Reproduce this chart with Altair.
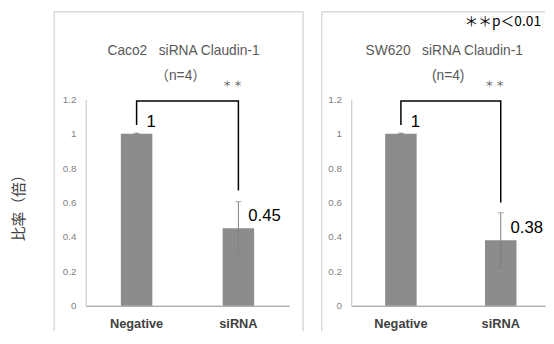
import altair as alt
import pandas as pd

# ---- data ----
categories = ["Negative", "siRNA"]
caco2_means = [1.0, 0.45]
caco2_errs = [0.003, 0.155]
sw620_means = [1.0, 0.38]
sw620_errs = [0.003, 0.16]
caco2_labels = ["1", "0.45"]
sw620_labels = ["1", "0.38"]
y_ticks = [0, 0.2, 0.4, 0.6, 0.8, 1.0, 1.2]
bracket_start = 1.05
bracket_top = 1.19
caco2_bracket_end = 0.67
sw620_bracket_end = 0.60
star_level = 1.29
caco2_title = ["Caco2\u00a0\u00a0\u00a0siRNA Claudin-1", "（n=4）"]
sw620_title = ["SW620\u00a0\u00a0\u00a0siRNA Claudin-1", "(n=4)"]
pvalue_note = "＊＊p＜0.01"
star_text = "＊\u00a0＊"
y_title = "比率（倍）"

FONT = "Liberation Sans, Noto Sans CJK JP"
CJK = "Noto Sans CJK JP"
H = 210
BORDER = "#d9d9d9"


def one(text):
    return pd.DataFrame({"t": [text]})


def panel(means, errs, labels, bracket_end, width, xscale, titles, left):
    df = pd.DataFrame({
        "cat": categories,
        "mean": means,
        "lo": [m - e for m, e in zip(means, errs)],
        "hi": [m + e for m, e in zip(means, errs)],
        "label": labels,
    })
    x_axis = alt.Axis(labelAngle=0, ticks=False, domainColor="#8c8c8c",
                      labelFontWeight="bold", labelColor="#404040",
                      labelFontSize=13, labelPadding=12, labelFont=FONT)
    y_axis = alt.Axis(values=y_ticks, format="~g", ticks=False, grid=False,
                      labelOverlap=False, labelBound=False,
                      domainColor="#bfbfbf", labelColor="#808080",
                      labelFontSize=10, labelPadding=10, labelFont=FONT)
    yscale = alt.Scale(domain=[0, 1.2], nice=False)

    def X():
        return alt.X("cat:N", scale=xscale, sort=categories, title=None, axis=x_axis)

    def Y(field):
        return alt.Y(field, scale=yscale, title=None, axis=y_axis)

    base = alt.Chart(df)
    bars = base.mark_bar(size=32, color="#8c8c8c").encode(x=X(), y=Y("mean:Q"))
    err = base.mark_rule(color="#808080", strokeWidth=1).encode(
        x=X(), y=Y("lo:Q"), y2="hi:Q")
    cap_lo = base.mark_tick(color="#808080", size=6, thickness=1).encode(
        x=X(), y=Y("lo:Q"))
    cap_hi = base.mark_tick(color="#808080", size=6, thickness=1).encode(
        x=X(), y=Y("hi:Q"))
    vals = base.mark_text(align="left", baseline="middle", dx=10, dy=-12,
                          fontSize=17, color="black", font=FONT).encode(
        x=X(), y=Y("mean:Q"), text="label:N")
    br = pd.DataFrame({
        "cat": [categories[0], categories[0], categories[1], categories[1]],
        "mean": [bracket_start, bracket_top, bracket_top, bracket_end],
        "step": [0, 1, 2, 3],
    })
    bracket = alt.Chart(br).mark_line(color="black", strokeWidth=1.5).encode(
        x=X(), y=Y("mean:Q"), order="step:Q")
    stars = alt.Chart(pd.DataFrame({"cat": [categories[1]], "mean": [star_level], "t": [star_text]})).mark_text(
        fontSize=9, color="#606060", font=CJK, dx=-6, baseline="middle").encode(
        x=X(), y=Y("mean:Q"), text="t:N")

    t1 = alt.Chart(one(titles[0])).mark_text(fontSize=14, color="#595959", font=FONT,
                                             baseline="middle").encode(
        text="t:N", x=alt.value(width / 2 - 4), y=alt.value(-49))
    t2 = alt.Chart(one(titles[1])).mark_text(fontSize=14, color="#595959", font=FONT,
                                             baseline="middle").encode(
        text="t:N", x=alt.value(width / 2 - 7 if left else width / 2), y=alt.value(-24))

    bl = -32 if left else -30
    br_x = 221 if left else width
    border_l = alt.Chart(one("b")).mark_rule(color=BORDER, strokeWidth=1.5).encode(
        x=alt.value(bl), y=alt.value(-89), y2=alt.value(236))
    border_t = alt.Chart(one("b")).mark_rule(color=BORDER, strokeWidth=1.5).encode(
        x=alt.value(bl), x2=alt.value(br_x), y=alt.value(-89))
    layers = [bars, err, cap_lo, cap_hi, vals, bracket, stars, t1, t2, border_l, border_t]
    if left:
        border_r = alt.Chart(one("b")).mark_rule(color=BORDER, strokeWidth=1.5).encode(
            x=alt.value(br_x), y=alt.value(-89), y2=alt.value(236))
        ytitle = alt.Chart(one(y_title)).mark_text(fontSize=15, color="#404040", font=CJK,
                                                   angle=270, baseline="middle").encode(
            text="t:N", x=alt.value(-68), y=alt.value(107))
        layers = layers + [border_r, ytitle]
    else:
        note = alt.Chart(one(pvalue_note)).mark_text(fontSize=14, color="black", font=CJK,
                                                      align="right", baseline="middle").encode(
            text="t:N", x=alt.value(193), y=alt.value(-78))
        layers = layers + [note]
    return alt.layer(*layers).properties(width=width, height=H)


left_panel = panel(caco2_means, caco2_errs, caco2_labels, caco2_bracket_end, 207,
                   alt.Scale(domain=categories, paddingInner=0.5, paddingOuter=0.25),
                   caco2_title, True)
right_panel = panel(sw620_means, sw620_errs, sw620_labels, sw620_bracket_end, 197,
                    alt.Scale(domain=categories, paddingInner=0.5, paddingOuter=0.2204, align=0.561),
                    sw620_title, False)

chart = alt.hconcat(left_panel, right_panel, spacing=17).properties(
    padding={"left": 4, "top": 0, "right": 0, "bottom": 0},
    background="white").configure_view(strokeWidth=0).configure_axis(
    labelOverlap=False, labelBound=False)

chart.save("out.html", embed_options={"renderer": "svg", "actions": False})
